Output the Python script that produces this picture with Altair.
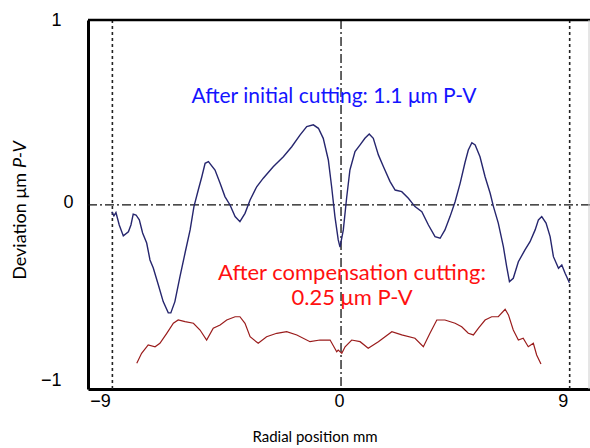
import altair as alt
import pandas as pd

# Initial cutting profile (blue)
blue_x = [-9.02, -8.94, -8.86, -8.73, -8.57, -8.37, -8.27, -8.18, -8.07, -7.94, -7.81, -7.65, -7.52,
          -7.39, -7.19, -7.00, -6.80, -6.70, -6.54, -6.34, -6.14, -5.94, -5.79, -5.62, -5.48, -5.35,
          -5.22, -4.96, -4.76, -4.57, -4.37, -4.17, -3.98, -3.78, -3.58, -3.32, -3.06, -2.67, -2.27,
          -1.94, -1.61, -1.35, -1.09, -0.89, -0.70, -0.50, -0.37, -0.24, -0.11, -0.04, 0.09, 0.22,
          0.35, 0.55, 0.75, 0.94, 1.11, 1.27, 1.47, 1.67, 1.93, 2.13, 2.39, 2.65, 2.91, 3.18, 3.44,
          3.70, 3.90, 4.09, 4.29, 4.49, 4.69, 4.88, 5.01, 5.15, 5.28, 5.47, 5.67, 5.87, 6.00, 6.19,
          6.39, 6.52, 6.63, 6.78, 6.98, 7.24, 7.44, 7.64, 7.77, 7.90, 8.07, 8.23, 8.36, 8.56, 8.69,
          8.82, 8.99]
blue_y = [-0.037, -0.06, -0.042, -0.11, -0.17, -0.147, -0.11, -0.05, -0.055, -0.082, -0.154, -0.209,
          -0.302, -0.346, -0.44, -0.531, -0.593, -0.593, -0.531, -0.394, -0.264, -0.137, -0.009, 0.082,
          0.155, 0.229, 0.238, 0.192, 0.119, 0.046, 0.0, -0.064, -0.092, -0.046, 0.027, 0.10, 0.147,
          0.21, 0.265, 0.32, 0.385, 0.43, 0.44, 0.421, 0.366, 0.247, 0.10, -0.064, -0.192, -0.232,
          -0.137, 0.038, 0.192, 0.293, 0.33, 0.366, 0.39, 0.366, 0.275, 0.21, 0.128, 0.082, 0.073,
          0.037, -0.009, -0.037, -0.11, -0.174, -0.183, -0.137, -0.064, 0.018, 0.12, 0.233, 0.302,
          0.342, 0.33, 0.265, 0.155, 0.064, -0.009, -0.10, -0.229, -0.339, -0.421, -0.403, -0.312,
          -0.247, -0.202, -0.137, -0.082, -0.064, -0.10, -0.174, -0.284, -0.348, -0.33, -0.375, -0.427]

# Compensation cutting profile (red)
red_x = [-8.04, -7.85, -7.59, -7.32, -7.13, -6.86, -6.60, -6.41, -6.14, -5.81, -5.55, -5.29, -5.03,
         -4.76, -4.50, -4.17, -3.98, -3.78, -3.58, -3.26, -2.93, -2.53, -2.14, -1.74, -1.22, -0.83,
         -0.43, -0.17, -0.11, 0.03, 0.16, 0.42, 0.75, 1.07, 1.47, 2.00, 2.39, 2.91, 3.24, 3.50, 3.77,
         4.09, 4.49, 4.75, 5.01, 5.21, 5.41, 5.67, 5.93, 6.19, 6.46, 6.59, 6.78, 6.98, 7.17, 7.37,
         7.57, 7.70, 7.87]
red_y = [-0.87, -0.815, -0.769, -0.779, -0.76, -0.705, -0.65, -0.632, -0.641, -0.65, -0.687, -0.742,
         -0.677, -0.659, -0.632, -0.614, -0.614, -0.65, -0.724, -0.76, -0.724, -0.705, -0.696, -0.714,
         -0.751, -0.742, -0.742, -0.806, -0.797, -0.815, -0.779, -0.742, -0.751, -0.787, -0.751,
         -0.696, -0.714, -0.732, -0.779, -0.705, -0.632, -0.632, -0.65, -0.669, -0.705, -0.714,
         -0.677, -0.632, -0.614, -0.614, -0.573, -0.604, -0.687, -0.742, -0.732, -0.779, -0.76,
         -0.824, -0.874]

x_ticks = [-9, 0, 9]
y_ticks = [-1, 0, 1]
x_markers = [-9, 9]

blue_label = "After initial cutting: 1.1 μm P-V"
red_label_1 = "After compensation cutting:"
red_label_2 = "0.25 μm P-V"
x_title = "Radial position mm"
y_title_a = "Deviation μm"
y_title_b = "P-V"

W, H = 502, 369
xscale = alt.Scale(domain=[-9.96, 9.80], nice=False, zero=False)
yscale = alt.Scale(domain=[-1.011, 1.016], nice=False, zero=False)

blue_df = pd.DataFrame({"x": blue_x, "y": blue_y})
red_df = pd.DataFrame({"x": red_x, "y": red_y})

lbl = "datum.value < 0 ? '\u2212' + abs(datum.value) : '' + datum.value"

xaxis = alt.Axis(values=x_ticks, title=None, grid=False, ticks=False,
                 domainColor="black", domainWidth=3, labelExpr=lbl,
                 labelFont="Liberation Sans", labelFontSize=18, labelColor="black",
                 labelAlign={"condition": {"test": "datum.value == 0", "value": "center"}, "value": "right"},
                 labelOffset=-2, labelPadding=3)
yaxis = alt.Axis(values=y_ticks, title=None, grid=False, ticks=False,
                 domainColor="black", domainWidth=3, labelExpr=lbl,
                 labelFont="Liberation Sans", labelFontSize=18, labelColor="black",
                 labelPadding={"condition": {"test": "datum.value == 0", "value": 15}, "value": 27},
                 labelOffset={"condition": {"test": "datum.value == -1", "value": -6}, "value": -2})

blue_line = alt.Chart(blue_df).mark_line(color="#26266e", strokeWidth=1.4).encode(
    x=alt.X("x:Q", scale=xscale, axis=xaxis),
    y=alt.Y("y:Q", scale=yscale, axis=yaxis),
    order="x:Q")
red_line = alt.Chart(red_df).mark_line(color="#9a1c1c", strokeWidth=1.2).encode(
    x=alt.X("x:Q", scale=xscale), y=alt.Y("y:Q", scale=yscale), order="x:Q")

vmark_df = pd.DataFrame({"x": x_markers})
vdotted = alt.Chart(vmark_df).mark_rule(color="#222222", strokeWidth=1.6, strokeDash=[3, 3]).encode(
    x=alt.X("x:Q", scale=xscale), y=alt.value(0), y2=alt.value(H))
vzero = alt.Chart(pd.DataFrame({"x": [0]})).mark_rule(color="#111111", strokeWidth=1.3,
                                                      strokeDash=[9, 3, 2, 3]).encode(
    x=alt.X("x:Q", scale=xscale), y=alt.value(0), y2=alt.value(H))
hzero = alt.Chart(pd.DataFrame({"y": [0]})).mark_rule(color="#111111", strokeWidth=1.3,
                                                      strokeDash=[9, 3, 2, 3]).encode(
    y=alt.Y("y:Q", scale=yscale), x=alt.value(0), x2=alt.value(W))
top_border = alt.Chart(pd.DataFrame({"y": [0]})).mark_rule(color="black", strokeWidth=2.5).encode(
    x=alt.value(0), x2=alt.value(W), y=alt.value(0))
right_border = alt.Chart(pd.DataFrame({"y": [0]})).mark_rule(color="#cccccc", strokeWidth=1).encode(
    x=alt.value(W - 1), y=alt.value(0), y2=alt.value(H))

def label(txt, px, py, color, size, font="Lato", align="center", angle=0, style="normal"):
    kw = dict(color=color, fontSize=size, font=font, align=align, baseline="middle", fontStyle=style)
    if angle:
        kw["angle"] = angle
    return alt.Chart(pd.DataFrame({"t": [txt]})).mark_text(**kw).encode(
        text="t:N", x=alt.value(px), y=alt.value(py))

texts = [
    label(blue_label, 246, 77, "#1414ff", 21),
    label(red_label_1, 264, 253, "#ff1010", 22),
    label(red_label_2, 264, 278, "#ff1010", 22),
    label(x_title, 227, 417, "black", 15),
    label(y_title_a, -67, 153, "black", 18, align="right", angle=270),
    label(y_title_b, -67, 148, "black", 18, align="left", angle=270, style="italic"),
]

chart = alt.layer(vdotted, vzero, hzero, blue_line, red_line, top_border, right_border, *texts).properties(
    width=W, height=H,
    autosize=alt.AutoSizeParams(type="none"),
    padding={"left": 88, "top": 20, "right": 0, "bottom": 59},
).configure_view(stroke=None).configure(background="white")

chart.save("out.html", embed_options={"renderer": "svg", "actions": False})
